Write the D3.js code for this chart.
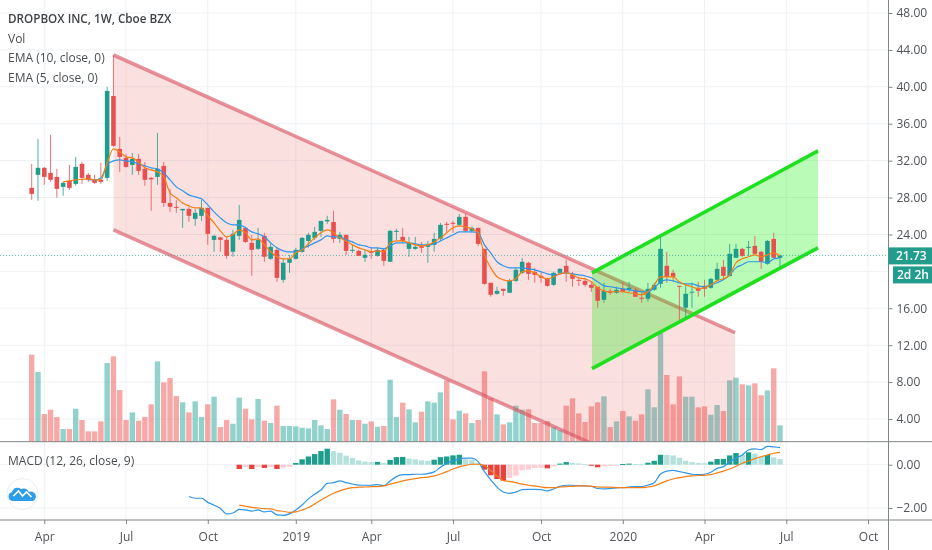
<!DOCTYPE html>
<html><head><meta charset="utf-8">
<script src="https://cdn.jsdelivr.net/npm/d3@7/dist/d3.min.js"></script>
<style>
html,body{margin:0;padding:0;background:#fff;overflow:hidden}
svg{display:block;filter:blur(.35px)}
text{font-family:"Open Sans",sans-serif}
</style></head><body><svg id="c" width="932" height="550"></svg>
<script>
const title="DROPBOX INC, 1W, Cboe BZX";
const legends=["Vol","EMA (10, close, 0)","EMA (5, close, 0)"];
const macdLabel="MACD (12, 26, close, 9)";
const priceTicks=[48,44,40,36,32,28,24,16,12,8,4];
const priceGrid=[48,44,40,36,32,28,24,20,16,12,8,4];
const macdTicks=[0,-2];
const timeTicks=[2,15,28,42,54,67,81,94,107,120,133];
const timeLabels=["Apr","Jul","Oct","2019","Apr","Jul","Oct","2020","Apr","Jul","Oct"];
const lastPrice=21.73, countdown="2d 2h";

const opens=[29.05,30.46,31.22,30.67,30.24,29.16,29.81,29.48,31.65,30.46,29.92,29.92,30.13,39.01,33.27,32.30,31.54,32.19,31.11,30.13,30.24,31.43,27.42,26.99,26.61,26.77,25.69,26.02,26.88,23.41,23.69,23.41,22.12,23.85,24.72,23.09,22.44,23.85,21.36,22.33,19.08,20.93,21.36,22.12,23.30,23.63,24.39,25.42,25.36,23.52,23.96,22.22,22.22,21.47,22.12,21.68,22.33,21.04,24.34,23.74,22.44,22.44,22.76,22.66,22.87,23.52,25.15,25.26,25.04,25.91,24.39,24.72,22.44,18.76,17.57,18.11,17.68,18.97,19.84,20.93,19.95,19.51,19.19,18.54,19.84,20.60,19.62,19.08,18.97,18.54,18.33,16.92,17.89,17.68,18.11,18.00,18.00,17.14,17.03,18.00,18.65,20.60,19.84,18.43,16.06,17.68,18.22,18.43,18.22,19.08,20.49,19.51,21.47,22.44,22.55,22.76,22.12,20.82,23.52,21.47];
const highs=[31.65,34.36,31.32,34.79,31.11,29.70,31.54,32.41,31.86,30.67,30.46,31.76,39.99,43.45,34.57,32.73,32.84,32.73,31.86,30.24,35.00,31.86,28.94,27.75,26.77,26.99,26.77,27.75,26.88,23.96,23.74,23.74,24.50,27.21,24.83,23.96,24.72,24.18,23.09,22.55,21.47,21.79,22.55,23.74,24.18,24.83,25.47,26.02,26.56,24.28,23.96,22.87,22.33,22.33,22.55,22.55,22.55,24.50,24.61,24.72,23.74,23.74,23.19,23.30,24.18,25.26,25.37,25.47,26.23,26.23,24.83,24.72,22.44,18.76,18.33,18.11,19.19,20.38,21.47,21.04,20.38,19.84,19.30,19.95,20.38,21.25,19.95,19.30,19.30,18.87,18.33,18.76,18.11,18.33,18.76,18.87,18.22,17.68,18.76,18.76,23.74,22.12,20.17,18.43,18.54,18.76,18.87,19.08,19.30,20.93,21.25,22.98,22.98,22.55,23.30,23.85,22.22,23.41,24.18,21.79];
const lows=[27.75,27.64,29.38,29.70,27.97,28.18,28.83,29.27,29.48,29.70,29.48,29.48,29.81,33.49,30.78,31.22,30.46,30.46,29.27,26.56,29.38,26.99,26.45,26.34,24.72,25.36,24.94,25.47,22.87,22.12,22.12,21.36,21.58,23.41,23.09,19.52,22.33,21.04,21.25,18.87,18.76,19.84,21.25,22.01,22.55,23.41,23.74,25.15,23.09,23.09,21.79,22.01,21.68,21.04,21.36,21.58,20.60,21.04,23.41,23.09,21.58,22.33,22.01,20.93,22.12,23.41,24.18,24.18,24.94,24.28,24.18,22.76,18.54,17.25,17.46,17.35,17.68,18.87,19.73,19.08,18.76,18.76,18.33,18.43,19.84,18.87,18.33,18.43,18.33,17.79,16.06,16.60,17.46,17.57,17.68,17.79,17.25,16.60,16.71,17.89,18.22,18.76,18.87,14.75,14.97,16.06,17.25,17.25,18.11,18.97,19.08,19.41,21.47,21.58,21.68,21.79,20.27,20.71,21.36,20.49];
const closes=[28.40,31.22,30.24,29.92,28.94,29.59,29.05,31.32,30.13,29.92,29.59,29.70,39.55,33.60,32.41,31.32,32.19,30.89,29.92,29.97,31.11,27.42,26.99,26.88,26.77,26.02,26.34,26.88,24.07,23.85,23.41,21.68,24.07,25.58,23.19,22.33,23.41,21.58,22.66,19.30,20.93,21.36,22.33,23.63,23.96,24.28,25.47,25.58,23.52,23.96,22.22,22.33,21.68,21.79,22.01,22.33,21.14,24.39,24.39,23.30,23.09,22.66,22.55,22.98,23.52,25.04,25.04,25.15,25.91,24.39,24.72,22.98,18.65,17.46,17.89,17.89,18.97,20.17,21.04,19.73,19.62,19.30,18.43,19.84,20.27,19.84,19.19,18.97,18.54,18.22,16.81,17.89,17.68,18.00,17.79,18.22,17.25,17.03,18.11,18.54,22.44,19.41,19.41,18.33,17.57,17.79,17.89,18.11,19.19,20.27,19.51,21.90,22.44,21.68,22.66,21.90,21.04,23.30,21.47,21.73];
const volumes=[26.1,20.9,8.3,9.6,7.4,3.8,3.8,9.9,6.5,3.1,3.1,6.1,23.6,25.6,15.5,6.5,8.8,6.3,7.4,11.2,24.1,17.8,19.1,13.7,11.8,8.8,12.1,7.4,11.2,13.5,4.4,6.5,5.4,13.2,9.9,6.7,12.8,6.3,5.6,10.8,4.7,4.7,4.6,4.2,4.0,6.5,4.9,3.8,12.7,9.6,8.3,6.5,6.5,5.4,6.1,4.5,4.7,18.6,7.4,11.7,9.7,5.8,9.0,12.1,11.7,14.8,18.4,6.7,9.3,8.5,5.6,6.5,21.1,13.1,8.2,5.2,5.8,10.8,9.6,9.7,5.6,5.6,6.2,4.4,3.5,10.8,13.0,8.5,5.9,10.6,11.8,13.6,4.4,6.1,9.2,7.6,6.3,8.2,15.7,10.3,32.6,20.0,11.2,19.6,13.5,13.5,10.3,10.6,8.1,11.0,9.2,18.4,19.2,17.2,16.9,17.5,13.9,15.4,22.0,4.9];

const ema10Start=9;
const ema10=[29.92,29.92,30.13,31.54,31.97,32.08,31.97,31.86,31.65,31.43,31.22,31.11,30.67,29.92,29.16,28.73,28.29,28.08,27.86,27.21,26.45,25.8,25.26,25.04,25.04,24.72,24.28,24.07,23.74,23.09,22.55,22.22,22.12,22.12,22.44,22.76,23.09,23.41,23.85,23.74,23.74,23.41,23.19,22.87,22.76,22.55,22.55,22.44,22.76,23.09,23.09,23.09,22.98,22.87,22.87,22.98,23.3,23.63,23.96,24.28,24.28,24.28,24.18,22.87,22.01,21.04,20.6,20.38,20.38,20.38,20.27,20.17,19.95,19.73,19.62,19.73,19.84,19.73,19.62,19.51,19.3,18.87,18.43,18.33,18.22,18.11,18.0,17.89,17.79,17.79,18.22,18.87,19.08,18.97,18.76,18.65,18.65,18.43,18.33,18.54,18.76,19.08,19.62,20.38,20.71,21.04,21.04,21.04,20.93,21.36,21.47];
const ema5Start=5;
const ema5=[29.7,29.81,29.92,29.97,30.02,29.92,29.92,31.76,33.27,32.95,32.41,32.3,31.86,31.22,31.0,30.78,30.24,28.51,27.97,27.42,27.1,26.88,26.88,26.02,25.26,24.39,23.74,23.96,24.5,24.18,23.41,23.52,22.87,22.12,21.58,21.36,21.36,22.01,22.33,22.98,23.63,24.18,24.5,24.18,23.63,23.3,22.87,22.55,22.33,22.12,22.22,22.12,23.09,23.3,23.3,23.09,22.87,22.76,22.87,23.19,23.63,24.18,24.72,24.94,24.83,24.61,24.18,21.79,20.38,19.41,19.08,18.97,19.19,19.95,20.06,19.84,19.41,19.19,19.41,19.73,19.84,19.62,19.3,19.19,18.87,18.22,17.89,17.79,17.79,17.79,17.68,17.57,17.46,17.79,18.54,19.41,19.41,19.41,18.87,18.54,18.33,18.11,18.22,18.54,18.97,19.2,19.62,20.93,21.36,21.58,21.79,21.58,21.79,22.01,21.68];

const macdStart=25;
const macdLine=[-1.47,-1.55,-1.55,-1.74,-1.87,-2.01,-2.27,-2.23,-2.06,-2.09,-2.14,-2.09,-2.18,-2.14,-2.32,-2.34,-2.27,-2.09,-1.86,-1.58,-1.37,-1.17,-.86,-.83,-.75,-.83,-.89,-.94,-.95,-.95,-.92,-.97,-.75,-.55,-.46,-.46,-.44,-.44,-.41,-.33,-.12,.07,.17,.27,.30,.30,.14,-.32,-.70,-1.03,-1.26,-1.32,-1.27,-1.15,-1.14,-1.14,-1.15,-1.21,-1.12,-1.0,-.95,-.95,-.97,-.98,-1.0,-1.10,-1.12,-1.10,-1.07,-1.06,-1.03,-1.01,-1.01,-.94,-.83,-.43,-.30,-.26,-.32,-.38,-.44,-.46,-.44,-.35,-.17,-.09,.14,.30,.45,.68,.73,.70,.85,.82,.79];
const signalStart=33;
const signalLine=[-1.87,-1.92,-1.97,-2.0,-2.03,-2.04,-2.12,-2.15,-2.20,-2.18,-2.09,-1.98,-1.81,-1.63,-1.47,-1.32,-1.21,-1.12,-1.06,-1.04,-1.03,-1.01,-1.01,-.98,-.90,-.83,-.75,-.69,-.64,-.60,-.57,-.52,-.43,-.32,-.20,-.10,-.03,.02,.02,-.04,-.27,-.52,-.74,-.77,-.83,-.90,-.95,-.98,-1.03,-1.06,-1.06,-1.03,-1.01,-1.0,-.98,-.98,-1.0,-1.03,-1.04,-1.04,-1.06,-1.06,-1.06,-1.06,-1.06,-1.03,-.98,-.86,-.75,-.66,-.60,-.55,-.52,-.50,-.49,-.46,-.38,-.30,-.20,-.07,.07,.17,.28,.37,.45,.53,.57];
const histStart=33;
const histogram=[-.2,-.1,-.2,-.1,-.15,-.1,-.2,-.14,-.1,.08,.25,.38,.49,.63,.74,.62,.55,.42,.31,.2,.14,.12,.13,.08,.22,.35,.36,.28,.25,.2,.18,.23,.35,.38,.43,.46,.26,.23,.08,-.23,-.49,-.66,-.74,-.62,-.51,-.26,-.23,-.15,-.14,-.17,-.08,.05,.12,.09,.06,.02,-.03,-.12,-.08,-.06,-.02,.03,.05,.03,.02,.09,.18,.46,.45,.43,.32,.18,.12,.08,.07,.14,.26,.27,.43,.54,.45,.57,.51,.38,.45,.34,.26];

const redUpper=[[13,43.45],[111.85,13.35]];
const redLower=[[13,24.5],[111.85,-5.6]];
const greenUpper=[[89.1,19.84],[125.05,33.06]];
const greenLower=[[89.1,9.45],[125.05,22.55]];

const W=932,H=550,axisX=888.5,volBase=441.7,macdBase=520;
const svg=d3.select("#c");
const x=d3.scaleLinear().domain([0,119]).range([31.7,780]);
const y=d3.scaleLinear().domain([48,4]).range([13,419]);
const yVol=d3.scaleLinear().domain([0,32.6]).range([volBase,333]);
const yM=d3.scaleLinear().domain([0,-2]).range([464.7,508]);
const idx=opens.map((_,i)=>i);
const up=i=>closes[i]>=opens[i];
const GREEN="#1f9d8c",RED="#ea4f50";

svg.append("defs").append("clipPath").attr("id","mainClip").append("rect").attr("x",0).attr("y",0).attr("width",axisX).attr("height",volBase);

// grid
const grid=svg.append("g").attr("stroke","#eef1f4").attr("stroke-width",1);
grid.selectAll(".h").data(priceGrid).join("line").attr("x1",0).attr("x2",axisX).attr("y1",d=>y(d)).attr("y2",d=>y(d));
grid.selectAll(".m").data(macdTicks).join("line").attr("x1",0).attr("x2",axisX).attr("y1",d=>yM(d)).attr("y2",d=>yM(d));
grid.selectAll(".v").data(timeTicks).join("line").attr("x1",d=>x(d)).attr("x2",d=>x(d)).attr("y1",0).attr("y2",macdBase);

// volume
svg.append("g").selectAll("rect").data(idx).join("rect")
 .attr("x",i=>x(i)-2.7).attr("width",5.4)
 .attr("y",i=>yVol(volumes[i])).attr("height",i=>volBase-yVol(volumes[i]))
 .attr("fill",i=>up(i)?"rgba(38,166,154,.5)":"rgba(239,83,80,.5)");

// channels
const seg=d3.line().x(d=>x(d[0])).y(d=>y(d[1]));
const ch=svg.append("g").attr("clip-path","url(#mainClip)");
ch.append("path").attr("d",seg([redUpper[0],redUpper[1],redLower[1],redLower[0]])+"Z").attr("fill","rgba(232,70,70,.17)");
ch.append("path").attr("d",seg(redUpper)).attr("stroke","rgba(214,80,95,.62)").attr("stroke-width",3.6).attr("fill","none");
ch.append("path").attr("d",seg(redLower)).attr("stroke","rgba(214,80,95,.62)").attr("stroke-width",3.6).attr("fill","none");
ch.append("path").attr("d",seg([greenUpper[0],greenUpper[1],greenLower[1],greenLower[0]])+"Z").attr("fill","rgba(10,240,0,.28)");
ch.append("path").attr("d",seg(greenUpper)).attr("stroke","#1fe01f").attr("stroke-width",3.6).attr("fill","none");
ch.append("path").attr("d",seg(greenLower)).attr("stroke","#1fe01f").attr("stroke-width",3.6).attr("fill","none");

// last price line
svg.append("line").attr("x1",0).attr("x2",axisX).attr("y1",y(lastPrice)).attr("y2",y(lastPrice))
 .attr("stroke","#26a69a").attr("stroke-opacity",.75).attr("stroke-width",1).attr("stroke-dasharray","1 2");

// candles
const cg=svg.append("g");
cg.selectAll(".w").data(idx).join("line").attr("x1",i=>x(i)).attr("x2",i=>x(i))
 .attr("y1",i=>y(highs[i])).attr("y2",i=>y(lows[i])).attr("stroke",i=>up(i)?GREEN:RED).attr("stroke-width",1).attr("stroke-opacity",.8);
cg.selectAll(".b").data(idx).join("rect").attr("x",i=>x(i)-2.3).attr("width",4.6)
 .attr("y",i=>y(Math.max(opens[i],closes[i]))).attr("height",i=>Math.max(1,Math.abs(y(opens[i])-y(closes[i]))))
 .attr("fill",i=>up(i)?GREEN:RED);

// EMAs
const lineFrom=(arr,start,sy)=>d3.line().x((d,i)=>x(i+start)).y(d=>sy(d)).curve(d3.curveMonotoneX)(arr);
svg.append("path").attr("d",lineFrom(ema10,ema10Start,y)).attr("fill","none").attr("stroke","#2f96e8").attr("stroke-width",1.2);
svg.append("path").attr("d",lineFrom(ema5,ema5Start,y)).attr("fill","none").attr("stroke","#f57f17").attr("stroke-width",1.2);

// MACD histogram
const hc=(d,i)=>{const p=i>0?histogram[i-1]:0; if(d>=0)return d>p?"#1f9d8c":"#b5e0db"; return d<p?"#e8423f":"#ffcdd2";};
svg.append("g").selectAll("rect").data(histogram).join("rect")
 .attr("x",(d,i)=>x(i+histStart)-2.7).attr("width",5.4)
 .attr("y",d=>Math.min(yM(d),yM(0))).attr("height",d=>Math.max(1,Math.abs(yM(d)-yM(0))))
 .attr("fill",hc);
svg.append("path").attr("d",lineFrom(macdLine,macdStart,yM)).attr("fill","none").attr("stroke","#2f96e8").attr("stroke-width",1.2);
svg.append("path").attr("d",lineFrom(signalLine,signalStart,yM)).attr("fill","none").attr("stroke","#f57f17").attr("stroke-width",1.2);

// frame
const fr=svg.append("g").attr("stroke","#7f8487").attr("stroke-width",1);
fr.append("line").attr("x1",0).attr("x2",W).attr("y1",volBase).attr("y2",volBase);
fr.append("line").attr("x1",0).attr("x2",W).attr("y1",macdBase).attr("y2",macdBase);
fr.append("line").attr("x1",axisX).attr("x2",axisX).attr("y1",0).attr("y2",H);

// axes
const styleAxis=g=>{g.select(".domain").remove();g.selectAll("line").attr("stroke","#7f8487");
 g.selectAll("text").attr("fill","#4f5358").attr("font-size",12).attr("font-family","'Open Sans',sans-serif");};
svg.append("g").attr("transform",`translate(${axisX},0)`).call(d3.axisRight(y).tickValues(priceTicks).tickFormat(d3.format(".2f")).tickSize(4).tickPadding(4)).call(styleAxis);
svg.append("g").attr("transform",`translate(${axisX},0)`).call(d3.axisRight(yM).tickValues(macdTicks).tickFormat(d=>d3.format(".2f")(d).replace("-","\u2212")).tickSize(4).tickPadding(4)).call(styleAxis);
svg.append("g").attr("transform",`translate(0,${macdBase})`).call(d3.axisBottom(x).tickValues(timeTicks).tickFormat((d,i)=>timeLabels[i]).tickSize(4).tickPadding(8)).call(styleAxis);

// right labels
const ry=y(lastPrice);
svg.append("rect").attr("x",axisX).attr("y",ry-8).attr("width",W-axisX).attr("height",17).attr("fill","#229c8d");
svg.append("text").attr("x",896).attr("y",ry+4.5).attr("fill","#fff").attr("font-size",12).attr("font-weight",600).text(d3.format(".2f")(lastPrice));
svg.append("rect").attr("x",893).attr("y",ry+11).attr("width",W-893).attr("height",17).attr("fill","#229c8d");
svg.append("text").attr("x",897).attr("y",ry+23.5).attr("fill","#fff").attr("font-size",12).attr("font-weight",600).text(countdown);

// legend
const lg=svg.append("g").attr("fill","#4a4e52").attr("font-size",12);
lg.append("text").attr("x",8).attr("y",22.5).attr("font-weight",600).attr("font-size",11.7).attr("fill","#3f4347").text(title);
legends.forEach((t,i)=>lg.append("text").attr("x",8).attr("y",42.5+i*19.5).text(t));
lg.append("text").attr("x",8).attr("y",465).text(macdLabel);

// logo
const lo=svg.append("g").attr("transform","translate(22.5,494)");
lo.append("circle").attr("r",15.5).attr("fill","#fff").attr("stroke","#e8edf0");
lo.append("path").attr("d","M-10,7 a4.6,4.6 0 0 1 -0.5,-9 a5.5,5.5 0 0 1 9,-3 a6,6 0 0 1 8,3 a4.6,4.6 0 0 1 4,9 Z").attr("fill","#2f9ce8");
lo.append("path").attr("d","M-9,2 L-4,-3 L0,2 L4,-2 L9,3").attr("fill","none").attr("stroke","#fff").attr("stroke-width",1.6);
</script></body></html>
